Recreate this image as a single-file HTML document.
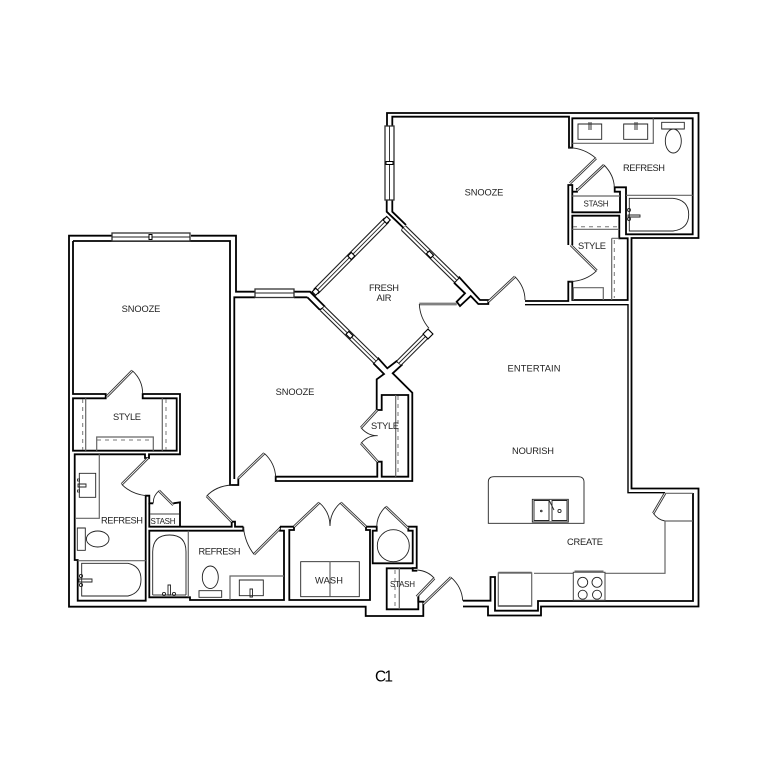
<!DOCTYPE html>
<html><head><meta charset="utf-8"><style>
html,body{margin:0;padding:0;background:#fff}
svg{display:block}
.w{fill:none;stroke:#000;stroke-width:1.8;stroke-linejoin:miter}
.g{fill:none;stroke:#666;stroke-width:1.2}
.t{fill:none;stroke:#222;stroke-width:.9}
.d{fill:none;stroke:#777;stroke-width:1;stroke-dasharray:4 4}
text{font-family:"Liberation Sans",sans-serif;font-size:9.3px;fill:#222;text-anchor:middle}
</style></head><body>
<svg width="768" height="768" viewBox="0 0 768 768" xmlns="http://www.w3.org/2000/svg">
<rect width="768" height="768" fill="#fff"/>
<!-- outer walls -->
<path class="w" d="M112,235.7H69V606.7H365.7V616H423.3V601.7H418.3V596"/>
<path class="w" d="M191,235.7H236V291.7H255M294,291.7H310L325,306.7"/>
<path class="w" d="M387,126V113H698.5V238H631.5V488.5H698.5V606.5H541V615.5H488V606.5H463"/>
<path class="w" d="M463,600.7H490.5V577H495V610.7H538V601H693V493"/>
<path d="M665,492.7H628V304.7H525" fill="none" stroke="#000" stroke-width="1.4"/>
<path class="w" d="M525,301H568.3V281.7H572.3V300H627.7V238.3H619.3V215.7H572.3V245"/>
<path class="w" d="M568.3,245V185H572.3V194V212.3H620V191.7H614.7V187.3H626V234.3H692.7V118.3H572.3V147.7H569V116.7H392.3V126"/>
<path class="w" d="M577,188V191.7H572.3"/>
<path class="w" d="M386.7,200V211.7L405,229.3M392.3,200V211.7L406,225"/>
<path class="w" d="M401.7,230L405.7,226.7M454,282.7L459.3,277.3L480,300H488.3V304H478.3L470.7,296L460,306L456.7,301.7L465,293.3L454,282.7"/>
<path class="w" d="M320,310L325,306.7M307.3,297.3H294M255,297.3H234.3V479"/>
<path class="w" d="M307.3,297.3L320,310M373.3,363.3L384,374L376.7,379.3V410H381.7V395H408.3V476.7H381.7V461.7H377.3V476.7H275.7V481H412.3V392.7L392.7,373.3L401.7,365L396.7,361L387.3,368.3L378.3,358.3L373.3,363.3"/>
<!-- left block -->
<path class="w" d="M73,241H230V485H238.3V478.3"/>
<path class="w" d="M73,241V394H105.7V398.3H73V450.7H176.7V398.3H142.7V394H180V454.3H149V458H145V454.3H74.7V560H77.7V600.7H145.7V495.7H149.3V503.3H153.3"/>
<path class="w" d="M173.3,503.3L180,502.3V526.7H231.7V521.7H235V526.7H243.3M149.3,503.3V526.7H180"/>
<path class="w" d="M280,526.7H294V530H289.3V600H370V530H366V526.7H376.7V530.7H372.7V563.3H412.7V530.7H408.3V526.7H416.7V568H412.7V570.7H417.3"/>
<path class="w" d="M243.3,526.7V530.7H149.3V597.3H190V600H284V530.7H280V526.7"/>
<path class="w" d="M412.7,568.3H386.7V609.3H418.3V596H416.7"/>
<!-- doors leaves -->
<g fill="none" stroke="#333" stroke-width="2.6">
<path id="a" d="M106.7,396.7L132.3,370.7M148,458L121.7,484.3M159,490.7L173.3,505M231.7,521.7L206.7,496M238.3,478.3L264.3,453.3M254,554.3L280,528.3M294,526.7L319.3,502.7M340.7,502.7L366,526.7M385.7,506.7L408.3,528.3M434.3,578.3L416.7,596.7M423.3,604L451,577.3M488.3,301.7L515,276.7M570.7,245L596.7,270.7M576.7,190.7L604,165M570,183.3L596,158.3M377.3,410L361,427.7M361,443.3L377.7,461.7M419.3,304H456.7M665,493.3L653.3,513.3"/>
</g>
<use href="#a" style="stroke:#fff;stroke-width:.8"/>
<!-- door arcs -->
<path class="t" d="M132.3,370.7Q142.7,380 142.7,394M121.7,484.3Q131,494 146,495.7M153.3,503Q153,496 159,490.7M206.7,496Q216,486 231.7,485M264.3,453.3Q275,463 275.7,477.3M243.3,526.7Q245,543 254,554.3M319.3,502.7Q330,512 330,526Q330,512 340.7,502.7M376.7,526.7Q377,515 385.7,506.7M417.3,570Q428,571 434.3,578.3M451,577.3Q462,587 462.7,600.7M515,276.7Q525,287 525,300M596.7,270.7Q586,281 570,281.7M604,165Q614,175 614.3,187.3M596,158.3Q584,148 569,147.7M361,427.7Q368,436 377.7,435.7Q368,435 361,443.3M429,328.3Q420,318 419.3,304M653.3,513.3Q658,520 665,521"/>
<!-- windows -->
<g fill="#fff" stroke="#333" stroke-width="1.3">
<rect x="112" y="233" width="78" height="8"/>
<rect x="255" y="289" width="39" height="8.5"/>
<rect x="385" y="126" width="9" height="74"/>
</g>
<path class="t" d="M112,237H190M255,293H294M389.5,126V200"/>
<rect x="149" y="234.5" width="3" height="5" fill="#fff" stroke="#000"/>
<rect x="386" y="161.5" width="7" height="3" fill="#fff" stroke="#000"/>
<g fill="none" stroke="#222" stroke-width="7.2"><path id="b" d="M403.5,228L456.5,280M322.5,308.5L375.8,360.8M399,363L428,334M315.7,291.7L386.7,220"/></g>
<use href="#b" style="stroke:#fff;stroke-width:5"/>
<path class="t" d="M403.5,228L456.5,280M322.5,308.5L375.8,360.8M399,363L428,334M315.7,291.7L386.7,220"/>
<g fill="#fff" stroke="#000" stroke-width="1.1">
<rect x="-2.5" y="-2.5" width="5" height="5" transform="translate(315.7,291.7) rotate(45)"/>
<rect x="-2.5" y="-2.5" width="5" height="5" transform="translate(386.7,220) rotate(45)"/>
<rect x="-2.5" y="-2.5" width="5" height="5" transform="translate(351.3,256) rotate(45)"/>
<rect x="-3" y="-2" width="6" height="4" transform="translate(349.5,335) rotate(45)"/>
<rect x="-3" y="-2" width="6" height="4" transform="translate(430,254.5) rotate(45)"/>
<rect x="-3.5" y="-3.5" width="7" height="7" transform="translate(428,334) rotate(45)"/>
</g>
<!-- closets -->
<path class="g" d="M85.7,398.3V450.7M162.3,398.3V450.7M96.7,450.7V437H153.3V450.7"/>
<path class="d" d="M82.7,399V450M166,399V450M97,440H153"/>
<path class="g" d="M395.7,395V476.7M399.3,568.3V609.3M611.7,238.3V300M572.3,229.3H619.3M573.3,300V287.7H603.3V300M572.3,196H620M150,514H179M619.3,238.3H611.7"/>
<path class="d" d="M398,396V476M395,570V608M614.3,240V298M573,226.7H619"/>
<!-- refresh top -->
<path class="g" d="M572.3,143.3H653.3V118.3M626,195.3H692.7"/>
<path class="t" d="M578,124H601.7V139.3H578ZM623.7,124H647.7V139.3H623.7ZM661.7,122.3H684.3V129H661.7ZM629.3,198.3H673Q688.7,200 688.7,214.5Q688.7,229 673,231H629.3Z"/>
<ellipse class="t" cx="673.3" cy="141" rx="8" ry="12"/>
<path class="t" d="M589,122V130M591,122V130M635,122V130M637,122V130M628,215H640V217H628Z"/>
<circle class="t" cx="629" cy="210" r="1.5"/><circle class="t" cx="629" cy="219" r="1.5"/>
<!-- refresh left -->
<path class="g" d="M75,518.3H99.3V454.3M77.7,560.7H145.7"/>
<path class="t" d="M79.3,473.3H95.7V497.3H79.3ZM77.3,528H85.3V550.3H77.3ZM81.7,563.3H128Q141,566 141,579.5Q141,593 128,596H81.7Z"/>
<ellipse class="t" cx="97.7" cy="539" rx="11.3" ry="8"/>
<path class="t" d="M78,484H86V487H78ZM79,579H92V582H79Z"/>
<circle class="t" cx="81" cy="576" r="1.6"/><circle class="t" cx="81" cy="585" r="1.6"/>
<rect x="77.5" y="479" width="2" height="2" fill="#fff" stroke="#000" stroke-width=".7"/>
<rect x="77.5" y="490" width="2" height="2" fill="#fff" stroke="#000" stroke-width=".7"/>
<!-- refresh 2 -->
<path class="g" d="M188.3,530.7V597.3M230,600V576H284M152.7,595H186"/>
<path class="t" d="M152.7,595V551.7Q153,535 169.5,535Q186,535 186,551.7V595M199,590.7H221.7V597.3H199ZM239.3,580H263.3V595.7H239.3ZM168,585V595H170.5V585ZM250,589V597H252.5V589Z"/>
<ellipse class="t" cx="210.3" cy="577.3" rx="8" ry="11.3"/>
<circle class="t" cx="164" cy="594" r="1.6"/><circle class="t" cx="174" cy="594" r="1.6"/>
<!-- wash -->
<path class="t" d="M300.7,561.7H359.3V596.7H300.7Z"/><path class="g" d="M330,561.7V596.7"/>
<circle class="t" cx="393.3" cy="545.7" r="16"/>
<!-- kitchen -->
<path class="t" d="M488.3,523.3V482Q488.3,476.7 494,476.7H578Q584,476.7 584,482V523.3Z"/>
<path class="t" d="M532.3,499.3H568.3V522H532.3ZM534,500.5H549V520.5H534ZM552,500.5H567V520.5H552Z"/>
<circle class="t" cx="541.3" cy="511" r=".8"/><circle class="t" cx="559.5" cy="511" r="1.6"/>
<path class="t" d="M549,500L554,510"/>
<path class="g" d="M534,573.3H573.3M605,573.3H665V521H692.7M665,493.3H692.7"/>
<rect x="498.3" y="573" width="33.4" height="33" fill="none" stroke="#666" stroke-width="1.2"/>
<path d="M498.3,572.7H531.7M498.3,606H531.7" stroke="#666" stroke-width="1.8"/>
<rect x="573.3" y="572.3" width="31.7" height="28" fill="none" stroke="#444"/>
<path d="M574.5,571.5H603.5" stroke="#666" stroke-width="2"/>
<g class="t"><circle class="t" cx="582.7" cy="582.3" r="5"/><circle class="t" cx="597" cy="582.3" r="5"/><circle class="t" cx="582.7" cy="594.7" r="4.5"/><circle class="t" cx="597" cy="594.7" r="4.5"/></g>
<!-- labels -->
<text x="141" y="312" textLength="38.7">SNOOZE</text>
<text x="127" y="420" textLength="28">STYLE</text>
<text x="122" y="523.5" textLength="42">REFRESH</text>
<text x="163" y="524" textLength="25" style="font-size:8px">STASH</text>
<text x="219.5" y="554.5" textLength="42">REFRESH</text>
<text x="295" y="395" textLength="38.7">SNOOZE</text>
<text x="385" y="429" textLength="28">STYLE</text>
<text x="384" y="291" textLength="30">FRESH</text>
<text x="384" y="301" textLength="15">AIR</text>
<text x="484" y="195.5" textLength="38.7">SNOOZE</text>
<text x="644" y="171" textLength="42">REFRESH</text>
<text x="596" y="206.5" style="font-size:8px" textLength="25">STASH</text>
<text x="592" y="249" textLength="28">STYLE</text>
<text x="534" y="371.5" textLength="53">ENTERTAIN</text>
<text x="533" y="454" textLength="42">NOURISH</text>
<text x="585" y="545" textLength="36">CREATE</text>
<text x="329" y="583.5" textLength="28">WASH</text>
<text x="402.5" y="587" style="font-size:8px" textLength="25">STASH</text>
<text x="384" y="681.5" style="font-size:15.5px;fill:#000" textLength="18">C1</text>
</svg>
</body></html>
